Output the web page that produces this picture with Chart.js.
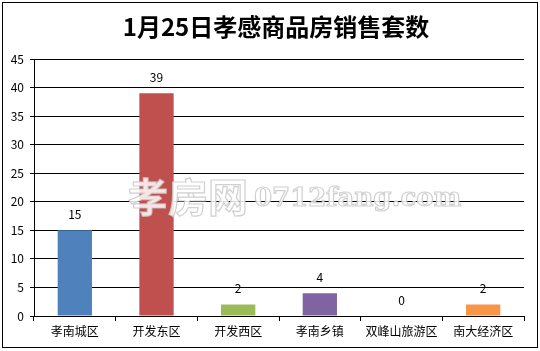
<!DOCTYPE html>
<html>
<head>
<meta charset="utf-8">
<script src="https://cdn.jsdelivr.net/npm/chart.js@4/dist/chart.umd.min.js"></script>
<style>
  html, body { margin: 0; padding: 0; background: #fff; }
  #wrap { width: 540px; height: 351px; position: relative; }
</style>
</head>
<body>
<div id="wrap"><canvas id="c" width="540" height="351"></canvas></div>
<script>
// 数据
const areas = ["孝南城区", "开发东区", "开发西区", "孝南乡镇", "双峰山旅游区", "南大经济区"];
const sales = [15, 39, 2, 4, 0, 2];
const barColors = ["#4F81BD", "#C0504D", "#9BBB59", "#8064A2", "#4BACC6", "#F79646"];
const titleText = "1月25日孝感商品房销售套数";
const watermarkCn = "孝房网";
const watermarkEn = "0712fang.com";

const labelFont = "SimSun, 'Noto Sans CJK SC', sans-serif";

// 标题 + 柱顶数值 + 外框 + 水印
const extras = {
  id: "extras",
  afterDatasetsDraw(chart) {
    const ctx = chart.ctx;
    const meta = chart.getDatasetMeta(0);
    ctx.save();
    ctx.fillStyle = "#000";
    ctx.font = "12px " + labelFont;
    ctx.textAlign = "center";
    ctx.textBaseline = "middle";
    meta.data.forEach((bar, i) => {
      ctx.fillText(String(sales[i]), bar.x, bar.y - 16);
    });

    // 标题
    ctx.font = "bold 24px 'Noto Sans CJK SC', serif";
    ctx.fillText(titleText, 276, 27);

    // 水印
    ctx.globalAlpha = 0.85;
    ctx.lineWidth = 1.2;
    ctx.strokeStyle = "#c8c8c8";
    ctx.fillStyle = "#ffffff";
    ctx.textAlign = "left";
    ctx.font = "bold 40px 'Noto Sans CJK SC', sans-serif";
    ctx.fillText(watermarkCn, 128, 197);
    ctx.strokeText(watermarkCn, 128, 197);
    ctx.font = "bold 26px 'DejaVu Serif', 'Liberation Serif', serif";
    ctx.fillText(watermarkEn, 254, 199);
    ctx.strokeText(watermarkEn, 254, 199);
    ctx.restore();
  },
  afterDraw(chart) {
    const ctx = chart.ctx;
    ctx.save();
    ctx.strokeStyle = "#000";
    ctx.lineWidth = 1;
    ctx.strokeRect(2.5, 2.5, 535, 345);
    ctx.restore();
  }
};

new Chart(document.getElementById("c"), {
  type: "bar",
  data: {
    labels: areas,
    datasets: [{
      data: sales,
      backgroundColor: barColors,
      barPercentage: 0.42,
      categoryPercentage: 1.0
    }]
  },
  options: {
    responsive: false,
    animation: false,
    devicePixelRatio: 1,
    layout: { padding: { left: 0, right: 16, top: 59, bottom: 0 } },
    plugins: {
      legend: { display: false },
      tooltip: { enabled: false },
      title: { display: false }
    },
    scales: {
      x: {
        afterFit: (s) => { s.height = 35; },
        grid: { drawOnChartArea: false, drawTicks: true, tickLength: 5, color: "#000", offset: true },
        border: { display: true, color: "#000" },
        ticks: { color: "#000", padding: 3, font: { size: 12, family: labelFont }, maxRotation: 0, autoSkip: false }
      },
      y: {
        min: 0,
        max: 45,
        afterFit: (s) => { s.width = 34; },
        grid: { color: "#000", drawTicks: true, tickLength: 4 },
        border: { display: true, color: "#000" },
        ticks: { stepSize: 5, color: "#000", padding: 6, font: { size: 12, family: labelFont } }
      }
    }
  },
  plugins: [extras]
});
</script>
</body>
</html>
